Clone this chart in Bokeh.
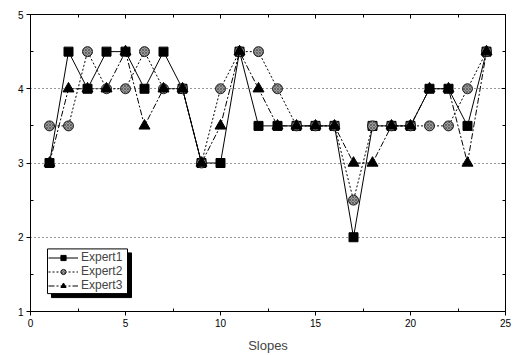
from bokeh.plotting import figure
from bokeh.models import Legend, LegendItem, LinearAxis, BoxAnnotation, Range1d, FixedTicker
from bokeh.embed import file_html
from bokeh.resources import INLINE

slopes = list(range(1, 25))
expert1 = [3, 4.5, 4, 4.5, 4.5, 4, 4.5, 4, 3, 3, 4.5, 3.5, 3.5, 3.5, 3.5, 3.5, 2, 3.5, 3.5, 3.5, 4, 4, 3.5, 4.5]
expert2 = [3.5, 3.5, 4.5, 4, 4, 4.5, 4, 4, 3, 4, 4.5, 4.5, 4, 3.5, 3.5, 3.5, 2.5, 3.5, 3.5, 3.5, 3.5, 3.5, 4, 4.5]
expert3 = [3, 4, 4, 4, 4.5, 3.5, 4, 4, 3, 3.5, 4.5, 4, 3.5, 3.5, 3.5, 3.5, 3, 3, 3.5, 3.5, 4, 4, 3, 4.5]
names = ["Expert1", "Expert2", "Expert3"]
x_ticks = [0, 5, 10, 15, 20, 25]
y_ticks = [1, 2, 3, 4, 5]

FONT = "Liberation Sans"
W, H = 514, 355
BL, BR, BT, BB = 30, 9, 14, 42
X0, X1, Y0, Y1 = 0, 25, 1, 5
FW, FH = W - BL - BR, H - BT - BB


def fx(px):  # frame-relative pixel -> data x
    return X0 + px * (X1 - X0) / FW


def fy(px):  # pixels up from frame bottom -> data y
    return Y0 + px * (Y1 - Y0) / FH


p = figure(width=W, height=H, output_backend="svg", toolbar_location=None,
           x_range=Range1d(X0, X1), y_range=Range1d(Y0, Y1),
           min_border_left=BL, min_border_right=BR, min_border_top=BT, min_border_bottom=BB)
p.background_fill_color = "white"
p.border_fill_color = "white"
p.outline_line_color = "black"
p.outline_line_width = 1

p.xgrid.visible = False
p.ygrid.grid_line_color = "#333333"
p.ygrid.grid_line_dash = "1 3"
p.ygrid.grid_line_width = 1
p.ygrid.ticker = FixedTicker(ticks=y_ticks)

for ax, ticks, minors in ((p.xaxis[0], x_ticks, [2.5, 7.5, 12.5, 17.5, 22.5]),
                          (p.yaxis[0], y_ticks, [1.5, 2.5, 3.5, 4.5])):
    ax.ticker = FixedTicker(ticks=ticks, minor_ticks=minors)
    ax.major_label_text_font = FONT
    ax.major_label_text_font_size = "10px"
    ax.major_label_text_color = "black"
    ax.axis_line_color = "black"
    ax.major_tick_line_color = "black"
    ax.minor_tick_line_color = "black"
    ax.major_tick_out = 4
    ax.major_tick_in = 0
    ax.minor_tick_out = 0
    ax.minor_tick_in = 3
    ax.major_label_standoff = 3

p.xaxis.axis_label = "Slopes"
p.xaxis.axis_label_text_font = FONT
p.xaxis.axis_label_text_font_size = "13px"
p.xaxis.axis_label_text_font_style = "normal"
p.xaxis.axis_label_standoff = 8

top = LinearAxis(ticker=FixedTicker(ticks=x_ticks, minor_ticks=[2.5, 7.5, 12.5, 17.5, 22.5]),
                 major_label_overrides={t: "" for t in x_ticks},
                 major_tick_in=4, major_tick_out=0, minor_tick_in=3, minor_tick_out=0)
right = LinearAxis(ticker=FixedTicker(ticks=y_ticks, minor_ticks=[1.5, 2.5, 3.5, 4.5]),
                   major_label_overrides={t: "" for t in y_ticks},
                   major_tick_in=4, major_tick_out=0, minor_tick_in=3, minor_tick_out=0)
p.add_layout(top, "above")
p.add_layout(right, "right")

l1 = p.line(slopes, expert1, line_color="black", line_width=1)
m1 = p.scatter(slopes, expert1, marker="square", size=9, fill_color="black", line_color="black")
l2 = p.line(slopes, expert2, line_color="black", line_width=1, line_dash="2 2")
m2 = p.scatter(slopes, expert2, marker="circle", size=10, fill_color="#9a9a9a", line_color="black",
               line_width=0.8, hatch_pattern="diagonal_cross", hatch_color="#444444",
               hatch_scale=3, hatch_weight=0.6)
l3 = p.line(slopes, expert3, line_color="black", line_width=1, line_dash="6 2 2 2")
m3 = p.scatter(slopes, expert3, marker="triangle", size=11, fill_color="black", line_color="black")

# legend frame (left, right, bottom, top in frame pixels) and its drop shadow
LX0, LX1, LY0, LY1 = 17, 97, 18, 63
SH = 4
p.quad(left=[fx(LX0 + SH)], right=[fx(LX1 + SH)], bottom=[fy(LY0 - SH)], top=[fy(LY1 - SH)],
       fill_color="black", line_color="black", level="overlay")
p.quad(left=[fx(LX0)], right=[fx(LX1)], bottom=[fy(LY0)], top=[fy(LY1)],
       fill_color="white", line_color="black", line_width=1, level="overlay")

legend = Legend(items=[LegendItem(label=names[0], renderers=[l1, m1]),
                       LegendItem(label=names[1], renderers=[l2, m2]),
                       LegendItem(label=names[2], renderers=[l3, m3])],
                location=(LX0 + 1, LY0 + 1), orientation="vertical",
                border_line_color=None, background_fill_alpha=0,
                label_text_font=FONT, label_text_font_size="12px",
                glyph_width=30, glyph_height=13, label_height=13,
                label_standoff=3, spacing=0, padding=1, margin=0,
                level="overlay")
p.add_layout(legend, "center")

open("out.html", "w").write(file_html(p, INLINE))
